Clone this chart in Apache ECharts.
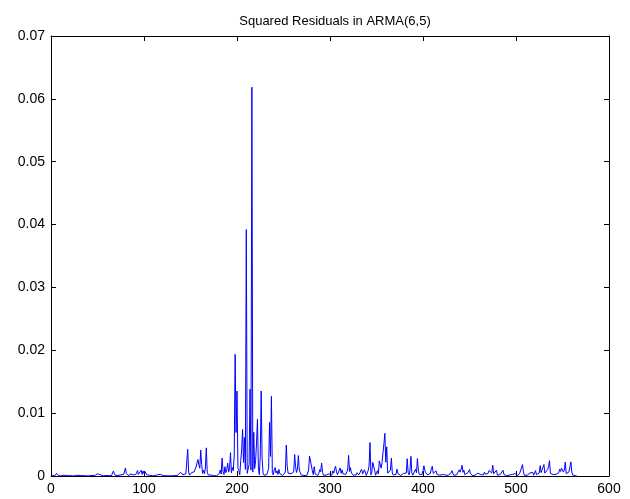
<!DOCTYPE html>
<html>
<head>
<meta charset="utf-8">
<script src="https://cdn.jsdelivr.net/npm/echarts@6/dist/echarts.min.js"></script>
<style>
html,body{margin:0;padding:0;background:#fff;}
#chart{width:630px;height:499px;}
</style>
</head>
<body>
<div id="chart"></div>
<script>
// Chart title
var chartTitle = 'Squared Residuals in ARMA(6,5)';
// X tick labels
var xTicks = [0, 100, 200, 300, 400, 500, 600];
// Y tick labels
var yTicks = ['0', '0.01', '0.02', '0.03', '0.04', '0.05', '0.06', '0.07'];
var residSq = [
0.00018,0.00005,0.00009,0.00002,0.00012,0.00042,0.00015,0.00003,0.00006,0.00011,
0.00004,0.00002,0.00007,0.00013,0.00003,0.00001,0.00005,0.00009,0.00002,0.00006,
0.00003,0.00008,0.00002,0.00005,0.00011,0.00004,0.00009,0.00022,0.00012,0.00003,
0.00002,0.00006,0.00004,0.00001,0.00007,0.00003,0.00005,0.00002,0.00008,0.00004,
0.00003,0.00006,0.00002,0.00009,0.00004,0.00003,0.00007,0.00012,0.00018,0.00035,
0.00058,0.00066,0.00021,0.00004,0.00006,0.00002,0.00005,0.00003,0.00008,0.00004,
0.00002,0.00006,0.00005,0.00009,0.00003,0.00014,0.00078,0.00045,0.00012,0.00031,
0.00022,0.00008,0.00015,0.00026,0.00019,0.00006,0.00011,0.00024,0.00065,0.00128,
0.00042,0.00018,0.00009,0.00028,0.00014,0.00031,0.00022,0.00038,0.00016,0.00024,
0.00041,0.00035,0.00088,0.00026,0.00012,0.00019,0.00092,0.00024,0.00081,0.00039,
0.00072,0.00045,0.00018,0.00032,0.00008,0.00012,0.00005,0.00009,0.00004,0.00007,
0.00003,0.00008,0.00015,0.00006,0.00021,0.00038,0.00052,0.00024,0.00041,0.00012,
0.00004,0.00007,0.00002,0.00005,0.00003,0.00006,0.00002,0.00004,0.00008,0.00003,
0.00005,0.00002,0.00007,0.00004,0.00012,0.00009,0.00022,0.00031,0.00058,0.00085,
0.00062,0.00021,0.00009,0.00014,0.00035,0.00018,0.00425,0.00062,0.00014,0.00038,
0.00052,0.00021,0.00045,0.00068,0.00095,0.00142,0.00205,0.00262,0.00178,0.00125,
0.00412,0.00185,0.00042,0.00095,0.00035,0.00128,0.00448,0.00062,0.00018,0.00032,
0.00008,0.00015,0.00006,0.00012,0.00004,0.00009,0.00021,0.00005,0.00011,0.00018,
0.00042,0.00095,0.00031,0.00285,0.00068,0.00022,0.00148,0.00052,0.00102,0.00205,
0.00062,0.00115,0.00372,0.00048,0.00135,0.00085,0.00318,0.01935,0.00692,0.01352,
0.00124,0.00085,0.00018,0.00245,0.00412,0.00742,0.00215,0.00612,0.00105,0.03921,
0.00042,0.00012,0.00185,0.01382,0.00095,0.06185,0.00062,0.00695,0.00118,0.00245,
0.00528,0.00902,0.00135,0.00022,0.00315,0.01352,0.00288,0.00045,0.00012,0.00035,
0.00008,0.00021,0.00052,0.00118,0.00852,0.00312,0.01268,0.00052,0.00018,0.00095,
0.00135,0.00048,0.00082,0.00025,0.00105,0.00038,0.00012,0.00022,0.00008,0.00015,
0.00011,0.00062,0.00492,0.00148,0.00045,0.00068,0.00021,0.00035,0.00012,0.00028,
0.00065,0.00342,0.00148,0.00055,0.00112,0.00325,0.00095,0.00052,0.00018,0.00042,
0.00015,0.00008,0.00032,0.00012,0.00005,0.00022,0.00095,0.00318,0.00325,0.00312,
0.00085,0.00022,0.00148,0.00035,0.00012,0.00025,0.00008,0.00045,0.00102,0.00068,
0.00205,0.00058,0.00012,0.00028,0.00005,0.00015,0.00022,0.00008,0.00035,0.00062,
0.00028,0.00012,0.00082,0.00045,0.00112,0.00155,0.00065,0.00022,0.00018,0.00095,
0.00128,0.00042,0.00098,0.00035,0.00018,0.00062,0.00025,0.00048,0.00095,0.00328,
0.00072,0.00135,0.00048,0.00018,0.00012,0.00025,0.00035,0.00015,0.00052,0.00028,
0.00018,0.00042,0.00025,0.00108,0.00032,0.00045,0.00098,0.00062,0.00008,0.00025,
0.00085,0.00158,0.00532,0.00018,0.00065,0.00218,0.00245,0.00092,0.00012,0.00048,
0.00085,0.00032,0.00242,0.00268,0.00125,0.00215,0.00372,0.00512,0.00678,0.00218,
0.00465,0.00045,0.00022,0.00018,0.00095,0.00285,0.00048,0.00015,0.00032,0.00012,
0.00025,0.00108,0.00042,0.00012,0.00035,0.00008,0.00022,0.00015,0.00042,0.00018,
0.00012,0.00045,0.00275,0.00058,0.00018,0.00095,0.00312,0.00048,0.00012,0.00025,
0.00035,0.00108,0.00052,0.00278,0.00092,0.00028,0.00012,0.00035,0.00022,0.00085,
0.00162,0.00085,0.00052,0.00048,0.00018,0.00012,0.00028,0.00042,0.00122,0.00155,
0.00042,0.00018,0.00035,0.00082,0.00025,0.00048,0.00022,0.00012,0.00035,0.00018,
0.00025,0.00012,0.00008,0.00015,0.00022,0.00008,0.00012,0.00005,0.00018,0.00042,
0.00085,0.00048,0.00012,0.00022,0.00035,0.00015,0.00028,0.00045,0.00098,0.00062,
0.00105,0.00172,0.00058,0.00092,0.00022,0.00012,0.00035,0.00048,0.00065,0.00102,
0.00045,0.00018,0.00008,0.00015,0.00025,0.00012,0.00028,0.00022,0.00045,0.00018,
0.00052,0.00022,0.00035,0.00042,0.00018,0.00062,0.00028,0.00012,0.00035,0.00042,
0.00088,0.00065,0.00105,0.00048,0.00172,0.00035,0.00062,0.00022,0.00092,0.00015,
0.00008,0.00012,0.00022,0.00035,0.00052,0.00092,0.00025,0.00008,0.00012,0.00005,
0.00012,0.00008,0.00015,0.00005,0.00018,0.00025,0.00012,0.00055,0.00038,0.00022,
0.00012,0.00008,0.00015,0.00045,0.00015,0.00045,0.00182,0.00062,0.00012,0.00008,
0.00008,0.00012,0.00022,0.00035,0.00048,0.00052,0.00045,0.00058,0.00012,0.00022,
0.00085,0.00022,0.00012,0.00035,0.00048,0.00165,0.00055,0.00098,0.00125,0.00182,
0.00045,0.00022,0.00065,0.00102,0.00148,0.00245,0.00042,0.00012,0.00015,0.00022,
0.00008,0.00012,0.00025,0.00018,0.00045,0.00052,0.00108,0.00072,0.00125,0.00152,
0.00062,0.00098,0.00222,0.00035,0.00012,0.00055,0.00068,0.00042,0.00225,0.00062,
0.00015,0.00008,0.00012,0.00005,0.00008
];

var seriesData = residSq.map(function (v, i) { return [i + 1, v]; });
var font = 'Liberation Sans, Arial, sans-serif';

var chart = echarts.init(document.getElementById('chart'), null, {renderer: 'canvas'});
var axisCommonX = {
  type: 'value', min: xTicks[0], max: xTicks[xTicks.length - 1], interval: 100,
  axisLine: {show: true, onZero: false, lineStyle: {color: '#000', width: 1}},
  axisTick: {show: true, inside: true, length: 5, lineStyle: {color: '#000'}},
  splitLine: {show: false}
};
var axisCommonY = {
  type: 'value', min: 0, max: 0.07, interval: 0.01,
  axisLine: {show: true, onZero: false, lineStyle: {color: '#000', width: 1}},
  axisTick: {show: true, inside: true, length: 5, lineStyle: {color: '#000'}},
  splitLine: {show: false}
};
chart.setOption({
  animation: false,
  backgroundColor: '#fff',
  title: {
    text: chartTitle, left: 330, top: 10, textAlign: 'center',
    textStyle: {fontFamily: font, fontSize: 13, fontWeight: 'normal', color: '#000'}
  },
  grid: {left: 51, right: 21, top: 36, bottom: 23, containLabel: false},
  xAxis: [
    Object.assign({}, axisCommonX, {position: 'bottom',
      axisLabel: {show: true, margin: 6, color: '#000', fontFamily: font, fontSize: 14}}),
    Object.assign({}, axisCommonX, {position: 'top', axisLabel: {show: false}})
  ],
  yAxis: [
    Object.assign({}, axisCommonY, {position: 'left',
      axisLabel: {show: true, margin: 6, color: '#000', fontFamily: font, fontSize: 14,
        formatter: function (v) { return yTicks[Math.round(v * 100)]; }}}),
    Object.assign({}, axisCommonY, {position: 'right', axisLabel: {show: false}})
  ],
  series: [{
    type: 'line', data: seriesData, xAxisIndex: 0, yAxisIndex: 0,
    showSymbol: false, symbol: 'none',
    lineStyle: {color: '#0000ff', width: 1}
  }]
});
</script>
</body>
</html>
